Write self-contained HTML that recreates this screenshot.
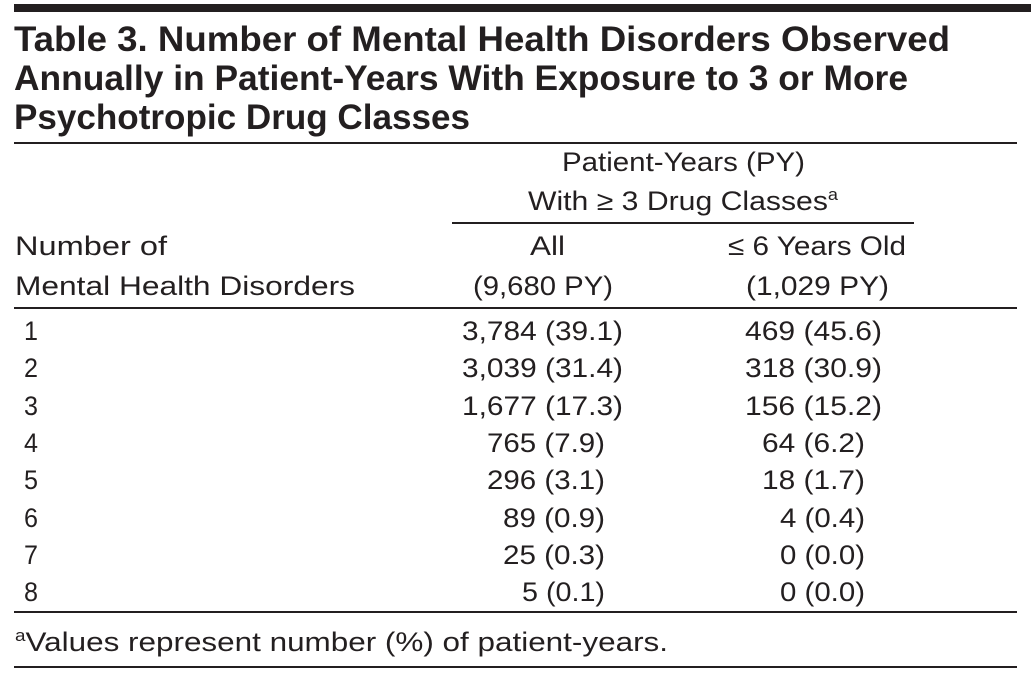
<!DOCTYPE html>
<html><head><meta charset="utf-8">
<style>
body{margin:0;width:1031px;height:674px;background:#fff;position:relative;overflow:hidden;font-family:"Liberation Sans",sans-serif;color:#231f20}
.t{position:absolute;white-space:nowrap;line-height:32px;font-size:27px;transform-origin:left center}
.h{font-weight:bold;font-size:35px;line-height:40px}
.ln{position:absolute;background:#231f20}
sup{font-size:60%;vertical-align:0;position:relative;top:-0.6em}
</style></head><body>
<div class="ln" style="left:14px;top:4px;width:1017px;height:8px"></div>
<div class="t h" data-w="936" style="left:14px;top:20px">Table 3. Number of Mental Health Disorders Observed</div>
<div class="t h" data-w="894" style="left:14px;top:59px">Annually in Patient-Years With Exposure to 3 or More</div>
<div class="t h" data-w="456" style="left:14px;top:98px">Psychotropic Drug Classes</div>
<div class="ln" style="left:14px;top:142px;width:1003px;height:2px"></div>

<div class="t" data-w="243" style="left:562px;top:146px">Patient-Years (PY)</div>
<div class="t" data-w="310" style="left:528px;top:185px">With ≥ 3 Drug Classes<sup>a</sup></div>
<div class="ln" style="left:452px;top:222px;width:462px;height:2px"></div>
<div class="t" data-w="152" style="left:15px;top:230px">Number of</div>
<div class="t" data-w="340" style="left:15px;top:270px">Mental Health Disorders</div>
<div class="t" data-w="35" style="left:530px;top:230px">All</div>
<div class="t" data-w="140" style="left:473px;top:270px">(9,680 PY)</div>
<div class="t" data-w="178" style="left:728px;top:230px">≤ 6 Years Old</div>
<div class="t" data-w="143" style="left:746px;top:270px">(1,029 PY)</div>
<div class="ln" style="left:14px;top:307px;width:1003px;height:2px"></div>

<div id="rows"></div>
<div class="ln" style="left:14px;top:611px;width:1003px;height:2px"></div>
<div class="t" data-w="653" style="left:15px;top:626px"><sup>a</sup>Values represent number (%) of patient-years.</div>
<div class="ln" style="left:14px;top:666px;width:1003px;height:2px"></div>

<script>
const counts=["1","2","3","4","5","6","7","8"];
const allVals=["3,784 (39.1)","3,039 (31.4)","1,677 (17.3)","765 (7.9)","296 (3.1)","89 (0.9)","25 (0.3)","5 (0.1)"];
const youngVals=["469 (45.6)","318 (30.9)","156 (15.2)","64 (6.2)","18 (1.7)","4 (0.4)","0 (0.0)","0 (0.0)"];
const allX=[462,462,462,487,487,503,503,522];
const allR=[623,623,623,605,605,605,605,605];
const youngX=[745,745,745,762,762,780,780,780];
const youngR=[882,882,882,865,865,865,865,865];
const rows=document.getElementById('rows');
counts.forEach((c,i)=>{
  const y=315+i*37.3;
  const a=document.createElement('div');a.className='t';a.style.left='24px';a.style.top=y+'px';a.textContent=c;a.dataset.w='14';
  
  
  const b=document.createElement('div');b.className='t';b.style.left=allX[i]+'px';b.style.top=y+'px';b.textContent=allVals[i];b.dataset.w=allR[i]-allX[i];
  
  
  const d=document.createElement('div');d.className='t';d.style.left=youngX[i]+'px';d.style.top=y+'px';d.textContent=youngVals[i];d.dataset.w=youngR[i]-youngX[i];
  
  
  rows.appendChild(a);rows.appendChild(b);rows.appendChild(d);
});
document.querySelectorAll('.t').forEach(el=>{
  const w=el.getBoundingClientRect().width;
  const tw=el.dataset.w?parseFloat(el.dataset.w):w;
  el.style.transform='scaleX('+(tw/w)+')';
});
</script>
</body></html>
